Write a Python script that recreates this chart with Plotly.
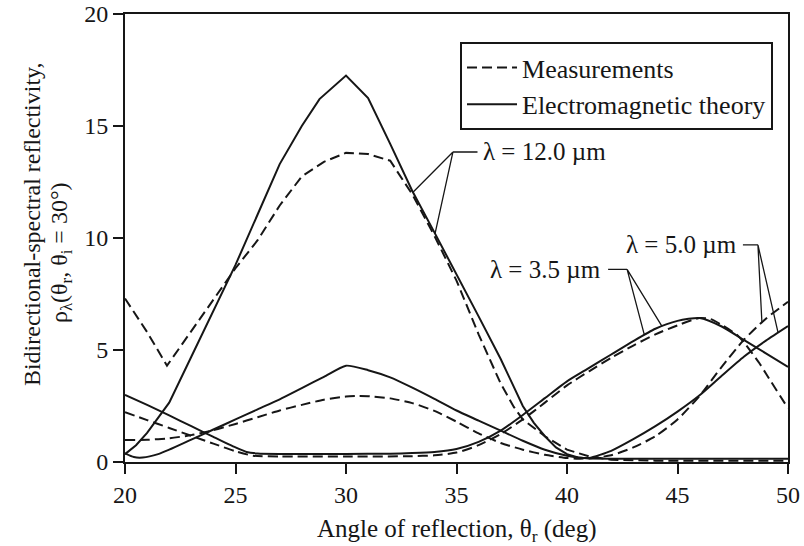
import numpy as np
import plotly.graph_objects as go

# Bidirectional-spectral reflectivity vs. angle of reflection (incidence 30 deg)

# lambda = 12.0 um
x12_theory = [20, 20.5, 21, 21.5, 22, 23, 24, 25, 26, 27, 28, 28.8, 30, 31, 32, 33,
              34, 35, 36, 37, 38, 38.5, 39, 39.5, 40, 40.5, 41, 42, 44, 46, 48, 50]
y12_theory = [0.35, 0.75, 1.3, 1.95, 2.65, 4.7, 6.75, 8.8, 11.05, 13.3, 15.0, 16.2, 17.25,
              16.25, 14.2, 12.1, 10.25, 8.4, 6.5, 4.6, 2.5, 1.75, 1.15, 0.65, 0.35, 0.2,
              0.16, 0.15, 0.15, 0.15, 0.15, 0.15]
x12_meas = [20, 21, 21.9, 23, 24, 25, 26, 27, 28, 29, 30, 31, 32, 33, 34, 35, 36, 36.5,
            37, 37.6, 38, 39, 40, 41, 42, 44, 46, 48, 50]
y12_meas = [7.3, 5.8, 4.3, 5.85, 7.25, 8.65, 9.9, 11.45, 12.75, 13.4, 13.8, 13.75, 13.45,
            11.95, 10.1, 8.1, 5.7, 4.6, 3.5, 2.45, 1.9, 1.15, 0.55, 0.25, 0.1, 0.06,
            0.06, 0.06, 0.06]

# lambda = 3.5 um
x35_theory = [20, 21, 22, 23, 24, 25, 25.5, 26, 27, 28, 30, 32, 33, 34, 35, 36, 37, 38,
              39, 40, 41, 42, 43, 44, 45, 46, 47, 48, 49, 50]
y35_theory = [3.0, 2.55, 2.08, 1.6, 1.12, 0.65, 0.45, 0.38, 0.36, 0.36, 0.36, 0.37, 0.4,
              0.45, 0.58, 0.9, 1.4, 2.1, 2.85, 3.6, 4.2, 4.8, 5.4, 5.95, 6.3, 6.43, 6.05,
              5.45, 4.85, 4.24]
x35_meas = [20, 21, 22, 23, 24, 25, 25.8, 27, 30, 33, 34, 35, 36, 37, 38, 39, 40, 41, 42,
            43, 44, 45, 46, 46.5, 47, 47.7, 48, 48.7, 49, 50]
y35_meas = [2.22, 1.87, 1.52, 1.17, 0.82, 0.48, 0.28, 0.25, 0.24, 0.26, 0.3, 0.42, 0.75,
            1.25, 1.9, 2.65, 3.42, 4.05, 4.65, 5.2, 5.7, 6.1, 6.43, 6.38, 6.12, 5.67,
            5.35, 4.42, 3.95, 2.4]

# lambda = 5.0 um
x50_theory = [20, 20.4, 20.8, 21.5, 22, 23, 24, 25, 26, 27, 28, 29, 30, 31, 32, 33, 34,
              35, 36, 37, 38, 39, 40, 40.5, 41, 42, 43, 44, 45, 46, 47, 48, 49, 50]
y50_theory = [0.38, 0.22, 0.2, 0.35, 0.55, 1.0, 1.45, 1.9, 2.35, 2.8, 3.3, 3.8, 4.3, 4.1,
              3.78, 3.32, 2.82, 2.3, 1.85, 1.4, 0.95, 0.55, 0.28, 0.2, 0.18, 0.5, 1.02,
              1.6, 2.25, 2.98, 3.85, 4.7, 5.42, 6.07]
x50_meas = [20, 21, 22, 23, 24, 25, 26, 27, 28, 29, 30, 30.6, 31, 32, 33, 34, 35, 36, 37,
            38, 39, 40, 40.5, 41, 42, 43, 44, 45, 46, 47, 48, 49, 50]
y50_meas = [0.98, 0.99, 1.06, 1.2, 1.42, 1.7, 2.0, 2.3, 2.55, 2.78, 2.92, 2.95, 2.94,
            2.84, 2.63, 2.28, 1.8, 1.28, 0.85, 0.55, 0.32, 0.18, 0.15, 0.16, 0.3, 0.65,
            1.15, 1.9, 2.95, 4.25, 5.45, 6.4, 7.15]

x_ticks = [20, 25, 30, 35, 40, 45, 50]
y_ticks = [0, 5, 10, 15, 20]

INK = "#161616"
FONT = "Liberation Serif"
DASH = "10px,5px"

fig = go.Figure()

curves = [
    # (x, y, dashed, spline, legend name or None)
    (x12_meas, y12_meas, True, False, "Measurements"),
    (x12_theory, y12_theory, False, False, "Electromagnetic theory"),
    (x35_meas, y35_meas, True, True, None),
    (x35_theory, y35_theory, False, True, None),
    (x50_meas, y50_meas, True, True, None),
    (x50_theory, y50_theory, False, True, None),
]
for xs, ys, dashed, smooth, name in curves:
    fig.add_trace(go.Scatter(
        x=xs, y=ys, mode="lines",
        name=name if name else "",
        showlegend=name is not None,
        line=dict(color=INK, width=2, dash=DASH if dashed else "solid",
                  shape="spline" if smooth else "linear", smoothing=0.6),
        hoverinfo="skip",
    ))


def on_curve(xs, ys, x):
    return float(np.interp(x, xs, ys))


# wavelength labels: text, text x, anchor, label y, corner x, start x, leader ends
labels = [
    ("λ = 12.0 µm", 36.1, "left", 13.84, 34.84, 35.95,
     [(33.03, (x12_theory, y12_theory)), (34.03, (x12_theory, y12_theory))]),
    ("λ = 3.5 µm", 41.65, "right", 8.6, 42.72, 41.86,
     [(43.5, (x35_theory, y35_theory)), (44.3, (x35_theory, y35_theory))]),
    ("λ = 5.0 µm", 47.8, "right", 9.69, 48.64, 47.96,
     [(48.82, (x50_meas, y50_meas)), (49.55, (x50_theory, y50_theory))]),
]
for text, tx, anchor, ly, cx, hx, ends in labels:
    path = f"M {hx},{ly} L {cx},{ly}"
    for ex, (cxs, cys) in ends:
        path += f" M {cx},{ly} L {ex},{on_curve(cxs, cys, ex)}"
    fig.add_shape(type="path", path=path, xref="x", yref="y",
                  line=dict(color=INK, width=1.3))
    fig.add_annotation(x=tx, y=ly, xref="x", yref="y", text=text, showarrow=False,
                       xanchor=anchor, yanchor="middle",
                       font=dict(family=FONT, size=25, color=INK))

# axis titles
fig.add_annotation(x=0.5, y=-0.152, xref="paper", yref="paper",
                   text="Angle of reflection, θ<sub>r</sub> (deg)", showarrow=False,
                   xanchor="center", yanchor="middle",
                   font=dict(family=FONT, size=25, color=INK))
fig.add_annotation(x=-0.1403, y=0.531, xref="paper", yref="paper",
                   text="Bidirectional-spectral reflectivity,", showarrow=False,
                   textangle=-90, xanchor="center", yanchor="middle",
                   font=dict(family=FONT, size=24, color=INK))
fig.add_annotation(x=-0.0965, y=0.4665, xref="paper", yref="paper",
                   text="ρ<sub>λ</sub>(θ<sub>r</sub>, θ<sub>i</sub> = 30°)", showarrow=False,
                   textangle=-90, xanchor="center", yanchor="middle",
                   font=dict(family=FONT, size=24, color=INK))

axis_common = dict(
    showline=True, linecolor=INK, linewidth=2, mirror=True,
    ticks="outside", ticklen=10, tickwidth=2, tickcolor=INK,
    showgrid=False, zeroline=False, automargin=False,
    tickfont=dict(family=FONT, size=24, color=INK),
)
fig.update_xaxes(range=[20, 50], tickvals=x_ticks, ticktext=[str(v) for v in x_ticks],
                 **axis_common)
fig.update_yaxes(range=[0, 20], tickvals=y_ticks, ticktext=[str(v) for v in y_ticks],
                 **axis_common)

fig.update_layout(
    width=804, height=546,
    margin=dict(l=125, r=16, t=14, b=84),
    paper_bgcolor="white", plot_bgcolor="white",
    font=dict(family=FONT, size=24, color=INK),
    legend=dict(x=0.5053, y=0.9375, xanchor="left", yanchor="top",
                bgcolor="white", bordercolor=INK, borderwidth=2,
                font=dict(family=FONT, size=26, color=INK),
                itemwidth=50, tracegroupgap=0),
    showlegend=True,
)

fig.write_html("out.html")
